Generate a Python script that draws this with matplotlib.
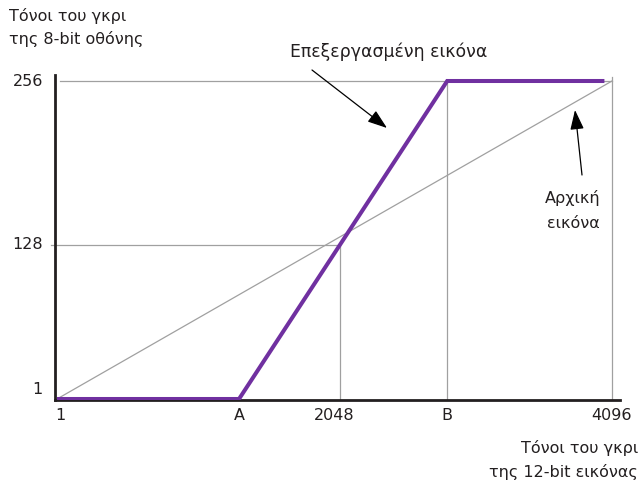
import matplotlib
matplotlib.use("Agg")
import matplotlib.pyplot as plt
from matplotlib.transforms import blended_transform_factory

plt.rcParams['font.family'] = ['DejaVu Sans']

# ---- data ----
A_val = 1344
B_val = 2880
x_min_val, x_mid_val, x_max_val = 1, 2048, 4096
y_min_val, y_mid_val, y_max_val = 1, 128, 256

processed_x = [1, A_val, B_val, 4040]
processed_y = [1, 1, 256, 256]
original_x = [1, 4096]
original_y = [1, 256]

x_tick_pos = [1, A_val, 2048, B_val, 4096]
x_tick_labels = ["1", "A", "2048", "B", "4096"]
y_tick_pos = [1, 128, 256]
y_tick_labels = ["1", "128", "256"]

purple = "#7030a0"
grey = "#a0a0a0"
dark = "#231f20"
txt = "#231f20"
FS = 11.5

W, H = 642, 483
fig = plt.figure(figsize=(W / 100, H / 100), dpi=100)
ax = fig.add_axes([55 / W, 1 - 400 / H, 565 / W, 325 / H])

# axis limits so that x=1 -> px 57, x=4096 -> px 612 ; y=1 -> px 399, y=256 -> px 81
xs = 555 / 4095
x_lo = 1 - 2 / xs
ax.set_xlim(x_lo, x_lo + 565 / xs)
ys = 318 / 255
y_lo = 1 - 1 / ys
ax.set_ylim(y_lo, y_lo + 325 / ys)

# schematic mid level (drawn slightly lower as in the reference)
y_mid_draw = y_mid_val - 4 / ys
x_cross = A_val + (y_mid_draw - 1) / (256 - 1) * (B_val - A_val)

# grey reference lines
ax.plot([x_lo + 5 / xs, x_max_val], [y_max_val, y_max_val], color=grey, lw=0.9, zorder=1)
ax.plot([x_lo - 4 / xs, x_cross], [y_mid_draw, y_mid_draw], color=grey,
        lw=0.9, zorder=1, clip_on=False)
ax.plot([x_cross, x_cross], [y_lo, y_mid_draw], color=grey, lw=0.9, zorder=1)
ax.plot([B_val, B_val], [y_lo, y_max_val], color=grey, lw=0.9, zorder=1)
ax.plot([x_max_val, x_max_val], [y_lo, y_max_val + 3], color=grey, lw=0.9, zorder=1)

# original (diagonal) line
ax.plot(original_x, original_y, color=grey, lw=0.9, zorder=2)
# processed line
ax.plot(processed_x, processed_y, color=purple, lw=2.9, zorder=3,
        solid_joinstyle='miter', solid_capstyle='butt')

for s in ['top', 'right']:
    ax.spines[s].set_visible(False)
for s in ['left', 'bottom']:
    ax.spines[s].set_color(dark)
    ax.spines[s].set_linewidth(2.0)
ax.set_xticks([])
ax.set_yticks([])

# tick labels as text
tx = blended_transform_factory(ax.transData, fig.transFigure)
for p, lab in zip(x_tick_pos, x_tick_labels):
    dx = 3 if lab == "1" else 0
    ax.text(p + dx / xs, 1 - 415 / H, lab, transform=tx, ha='center',
            va='center', fontsize=FS, color=txt)
ty = blended_transform_factory(fig.transFigure, ax.transData)
for p, lab in zip(y_tick_pos, y_tick_labels):
    dy = {"1": 10, "128": -4}.get(lab, 0)
    ax.text(43 / W, p + dy / ys, lab, transform=ty, ha='right',
            va='center', fontsize=FS, color=txt)

# axis titles
fig.text(9 / W, 1 - 21 / H, "Τόνοι του γκρι", ha='left', va='baseline',
         fontsize=FS, color=txt)
fig.text(9 / W, 1 - 44 / H, "της 8-bit οθόνης", ha='left', va='baseline',
         fontsize=FS, color=txt)
fig.text(638 / W, 1 - 453 / H, "Τόνοι του γκρι", ha='right', va='baseline',
         fontsize=FS, color=txt)
fig.text(638 / W, 1 - 477 / H, "της 12-bit εικόνας", ha='right', va='baseline',
         fontsize=FS, color=txt)

# annotations
arrow = dict(arrowstyle='-|>,head_length=1.2,head_width=0.42',
             color='black', lw=0.9, shrinkA=0, shrinkB=0)
fig.text(290 / W, 1 - 57 / H, "Επεξεργασμένη εικόνα", ha='left', va='baseline',
         fontsize=12.4, color=txt)
ax.annotate("", xy=(387 / W, 1 - 128 / H), xytext=(312 / W, 1 - 70 / H),
            xycoords='figure fraction', textcoords='figure fraction',
            arrowprops=arrow)
fig.text(573 / W, 1 - 203 / H, "Αρχική", ha='center', va='baseline',
         fontsize=FS, color=txt)
fig.text(573 / W, 1 - 228 / H, "εικόνα", ha='center', va='baseline',
         fontsize=FS, color=txt)
ax.annotate("", xy=(575 / W, 1 - 110 / H), xytext=(582 / W, 1 - 175 / H),
            xycoords='figure fraction', textcoords='figure fraction',
            arrowprops=arrow)

fig.savefig("out.png", dpi=100, facecolor='white')
